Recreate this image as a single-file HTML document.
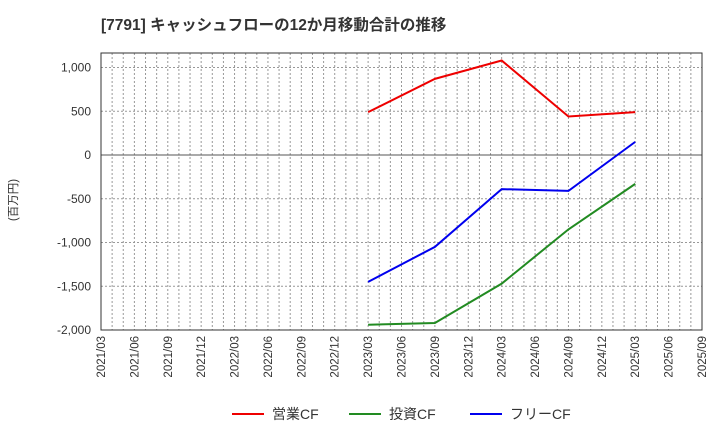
<!DOCTYPE html>
<html><head><meta charset="utf-8"><style>
body{margin:0;background:#fff;font-family:"Liberation Sans","Noto Sans CJK JP",sans-serif}
</style></head><body>
<svg id="c" width="720" height="440" xmlns="http://www.w3.org/2000/svg">
<text x="101" y="30" font-size="15.5" font-weight="bold" fill="#333" font-family="Liberation Sans,Noto Sans CJK JP,sans-serif">[7791]  キャッシュフローの12か月移動合計の推移</text>
<text transform="translate(17,200) rotate(-90)" font-size="11.5" fill="#333" text-anchor="middle" font-family="Liberation Sans,Noto Sans CJK JP,sans-serif">(百万円)</text>
<g id="grid"></g><g id="axes"></g><g id="series"></g><g id="legend"></g>
</svg>
<script>
const xLabels=["2021/03","2021/06","2021/09","2021/12","2022/03","2022/06","2022/09","2022/12","2023/03","2023/06","2023/09","2023/12","2024/03","2024/06","2024/09","2024/12","2025/03","2025/06","2025/09"];
const yTicks=[1000,500,0,-500,-1000,-1500,-2000];
const yTickLabels=["1,000","500","0","-500","-1,000","-1,500","-2,000"];
const pointIdx=[8,10,12,14,16];
const opCF=[490,870,1080,440,490];
const invCF=[-1940,-1920,-1470,-850,-330];
const freeCF=[-1450,-1050,-390,-410,150];
const seriesNames=["営業CF","投資CF","フリーCF"];
const L=101,R=702,T=53,B=330,NS="http://www.w3.org/2000/svg";
const xs=i=>L+(R-L)*i/(xLabels.length-1);
const ys=v=>155-v*87.5/1000;
function mk(p,t,a){const e=document.createElementNS(NS,t);for(const k in a)e.setAttribute(k,a[k]);document.getElementById(p).appendChild(e);return e;}
for(let m=1;m<(xLabels.length-1)*3;m++){const x=L+(R-L)*m/((xLabels.length-1)*3);
const g=mk('grid','line',{x1:x,x2:x,y1:T,y2:B,stroke:'#999','stroke-width':1,'stroke-dasharray':'2,2'});

}
yTicks.forEach((v,i)=>{const y=ys(v);
const g=mk('grid','line',{x1:L,x2:R,y1:y,y2:y,stroke:v===0?'#555':'#999','stroke-width':1,'stroke-dasharray':v===0?'none':'2,2'});


const t=mk('axes','text',{x:L-10,y:y+4,'font-size':12,fill:'#333','text-anchor':'end'});t.textContent=yTickLabels[i];

});
const fr=mk('axes','rect',{x:L,y:T,width:R-L,height:B-T,fill:'none',stroke:'#333','stroke-width':1});


xLabels.forEach((l,i)=>{const x=xs(i);const t=mk('axes','text',{transform:`translate(${x+4},${B+6}) rotate(-90)`,'font-size':11.5,fill:'#333','text-anchor':'end'});t.textContent=l;

});
const cols=["#e00","#228b22","#00e"];
[opCF,invCF,freeCF].forEach((d,s)=>{
const p=mk('series','polyline',{points:d.map((v,i)=>xs(pointIdx[i])+','+ys(v)).join(' '),fill:'none',stroke:cols[s],'stroke-width':2});


const lx=[232,349,470][s];
const ll=mk('legend','line',{x1:lx,x2:lx+32,y1:414,y2:414,stroke:cols[s],'stroke-width':2});


const lt=mk('legend','text',{x:lx+40,y:419,'font-size':14,fill:'#333'});lt.textContent=seriesNames[s];

});
</script>
</body></html>
